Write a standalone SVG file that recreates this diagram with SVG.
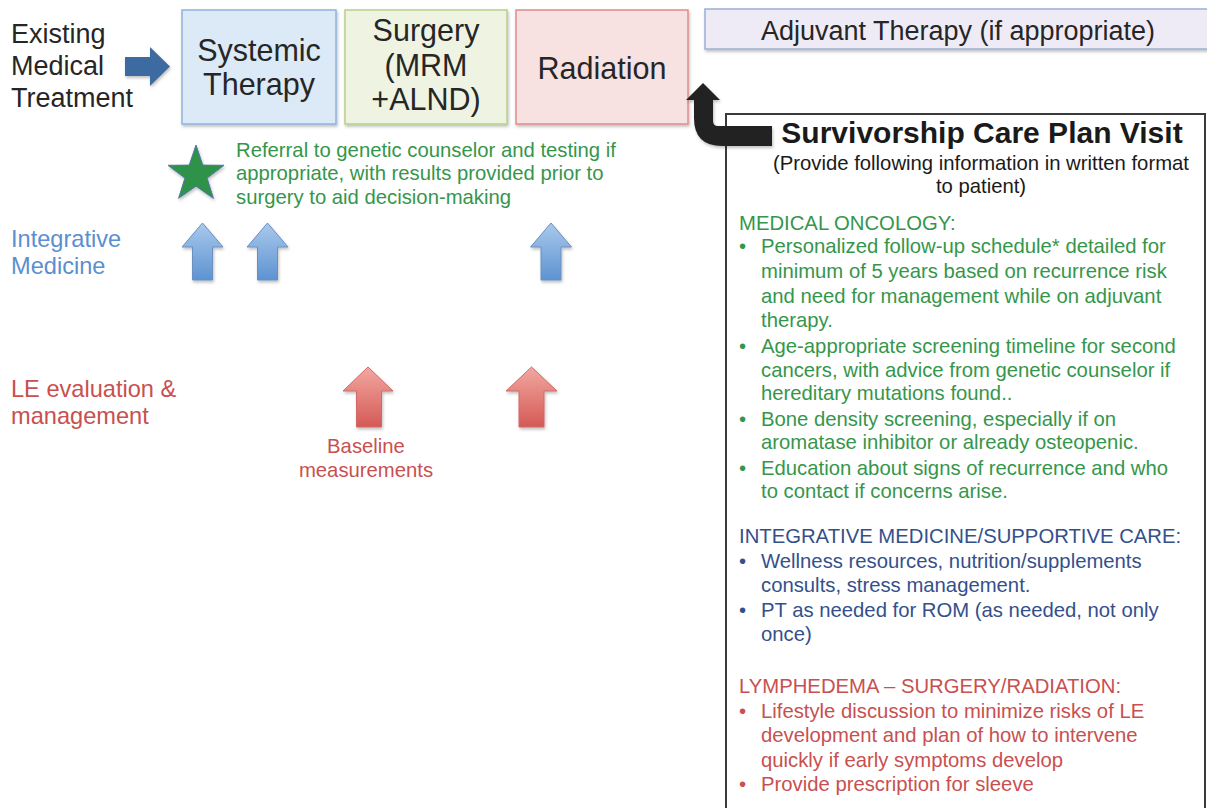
<svg xmlns="http://www.w3.org/2000/svg" width="1207" height="808" viewBox="0 0 1207 808">
<defs>
<filter id="sh" x="-10%" y="-10%" width="130%" height="130%">
<feDropShadow dx="1" dy="2" stdDeviation="1.5" flood-color="#000" flood-opacity="0.25"/>
</filter>
<linearGradient id="gb" x1="0" y1="0" x2="0" y2="1">
<stop offset="0" stop-color="#a9c9ec"/>
<stop offset="1" stop-color="#5d93d1"/>
</linearGradient>
<linearGradient id="gr" x1="0" y1="0" x2="0" y2="1">
<stop offset="0" stop-color="#f3a7a1"/>
<stop offset="1" stop-color="#d45a55"/>
</linearGradient>
</defs>
<style>
text{font-family:"Liberation Sans",Arial,sans-serif}
.box{stroke-width:1.5;filter:url(#sh)}
.big{font-size:30.5px;fill:#262626;text-anchor:middle}
.lbl{font-size:27px;fill:#262626}
.side{font-size:23.6px}
.sec{font-size:20.3px}
.g{fill:#35964b}
.b{fill:#34508c}
.r{fill:#c8504f}
.bl{fill:#5b8fcf}
.upb{fill:url(#gb);stroke:#6a8fc0;stroke-width:1;filter:url(#sh)}
.upr{fill:url(#gr);stroke:#d06a66;stroke-width:1;filter:url(#sh)}
</style>
<rect width="1207" height="808" fill="#ffffff"/>

<g id="existing">
<text class="lbl" x="11" y="43">Existing</text>
<text class="lbl" x="11" y="75">Medical</text>
<text class="lbl" x="11" y="107">Treatment</text>
</g>

<g id="systemic">
<rect class="box" x="182" y="10" width="154" height="114" fill="#dce9f6" stroke="#8fb3dc"/>
<text class="big" x="259" y="61">Systemic</text>
<text class="big" x="259" y="95">Therapy</text>
</g>

<g id="surgery">
<rect class="box" x="345" y="10" width="162" height="114" fill="#eef3e2" stroke="#b6cf8a"/>
<text class="big" x="426" y="41">Surgery</text>
<text class="big" x="426" y="76">(MRM</text>
<text class="big" x="426" y="110">+ALND)</text>
</g>

<g id="radiation">
<rect class="box" x="516" y="10" width="172" height="114" fill="#f8e1e1" stroke="#de8d8d"/>
<text class="big" x="602" y="79">Radiation</text>
</g>

<g id="adjuvant">
<rect class="box" x="705" y="9" width="510" height="40" fill="#eeebf6" stroke="#9bb0d5"/>
<text x="958" y="40" font-size="27" fill="#262626" text-anchor="middle">Adjuvant Therapy (if appropriate)</text>
</g>

<g id="survivorship">
<rect x="726" y="114" width="479" height="710" fill="#ffffff" stroke="#3a3a3a" stroke-width="2"/>
<text x="982" y="143" font-size="30" font-weight="bold" fill="#1a1a1a" text-anchor="middle">Survivorship Care Plan Visit</text>
<text x="981" y="170" font-size="20.3" fill="#1a1a1a" text-anchor="middle">(Provide following information in written format</text>
<text x="981" y="193" font-size="20.3" fill="#1a1a1a" text-anchor="middle">to patient)</text>

<g class="sec g">
<text x="739" y="230">MEDICAL ONCOLOGY:</text>
<text x="739" y="253">•</text><text x="761" y="253">Personalized follow-up schedule* detailed for</text>
<text x="761" y="278">minimum of 5 years based on recurrence risk</text>
<text x="761" y="303">and need for management while on adjuvant</text>
<text x="761" y="327">therapy.</text>
<text x="739" y="353">•</text><text x="761" y="353">Age-appropriate screening timeline for second</text>
<text x="761" y="377">cancers, with advice from genetic counselor if</text>
<text x="761" y="400">hereditary mutations found..</text>
<text x="739" y="426">•</text><text x="761" y="426">Bone density screening, especially if on</text>
<text x="761" y="449">aromatase inhibitor or already osteopenic.</text>
<text x="739" y="475">•</text><text x="761" y="475">Education about signs of recurrence and who</text>
<text x="761" y="498">to contact if concerns arise.</text>
</g>

<g class="sec b">
<text x="739" y="543">INTEGRATIVE MEDICINE/SUPPORTIVE CARE:</text>
<text x="739" y="568">•</text><text x="761" y="568">Wellness resources, nutrition/supplements</text>
<text x="761" y="592">consults, stress management.</text>
<text x="739" y="617">•</text><text x="761" y="617">PT as needed for ROM (as needed, not only</text>
<text x="761" y="641">once)</text>
</g>

<g class="sec r">
<text x="739" y="693">LYMPHEDEMA – SURGERY/RADIATION:</text>
<text x="739" y="718">•</text><text x="761" y="718">Lifestyle discussion to minimize risks of LE</text>
<text x="761" y="742">development and plan of how to intervene</text>
<text x="761" y="767">quickly if early symptoms develop</text>
<text x="739" y="791">•</text><text x="761" y="791">Provide prescription for sleeve</text>
</g>
</g>

<g id="integrative-label" class="side bl">
<text x="11" y="247">Integrative</text>
<text x="11" y="274">Medicine</text>
</g>

<g id="le-label" class="side r">
<text x="11" y="397">LE evaluation &amp;</text>
<text x="11" y="424">management</text>
</g>

<g id="referral">
<polygon points="196,145 202.8,165.1 224,165.3 207.1,178.1 213.4,198.3 196,186.2 178.6,198.3 184.9,178.1 168,165.3 189.2,165.1" fill="#2e9248" stroke="#4d77a8" stroke-width="1" filter="url(#sh)"/>
<g font-size="20.3" class="g">
<text x="236" y="157">Referral to genetic counselor and testing if</text>
<text x="236" y="180">appropriate, with results provided prior to</text>
<text x="236" y="204">surgery to aid decision-making</text>
</g>
</g>

<g id="baseline">
<text x="366" y="453" font-size="20.3" class="r" text-anchor="middle">Baseline</text>
<text x="366" y="477" font-size="20.3" class="r" text-anchor="middle">measurements</text>
</g>

<g id="connectors">
<polygon points="125,57 150,57 150,47 170,66.5 150,86 150,76 125,76" fill="#3c6aa0" filter="url(#sh)"/>
<path d="M703,83 L720,100 L713,100 L713,121 Q713,126 718,126 L772,126 L772,146 L722,146 Q694,146 694,118 L694,100 L686,100 Z" fill="#232323" filter="url(#sh)"/>
<polygon class="upb" points="202.5,223 223,247 212.5,247 212.5,280 192.5,280 192.5,247 182,247"/>
<polygon class="upb" points="267.5,223 288,247 277.5,247 277.5,280 257.5,280 257.5,247 247,247"/>
<polygon class="upb" points="551,223 571.5,247 561,247 561,280 541,280 541,247 530.5,247"/>
<polygon class="upr" points="368,367 393,391 381.5,391 381.5,427 356.5,427 356.5,391 343,391"/>
<polygon class="upr" points="531.5,367 557,391 544,391 544,427 519,427 519,391 506,391"/>
</g>
</svg>
